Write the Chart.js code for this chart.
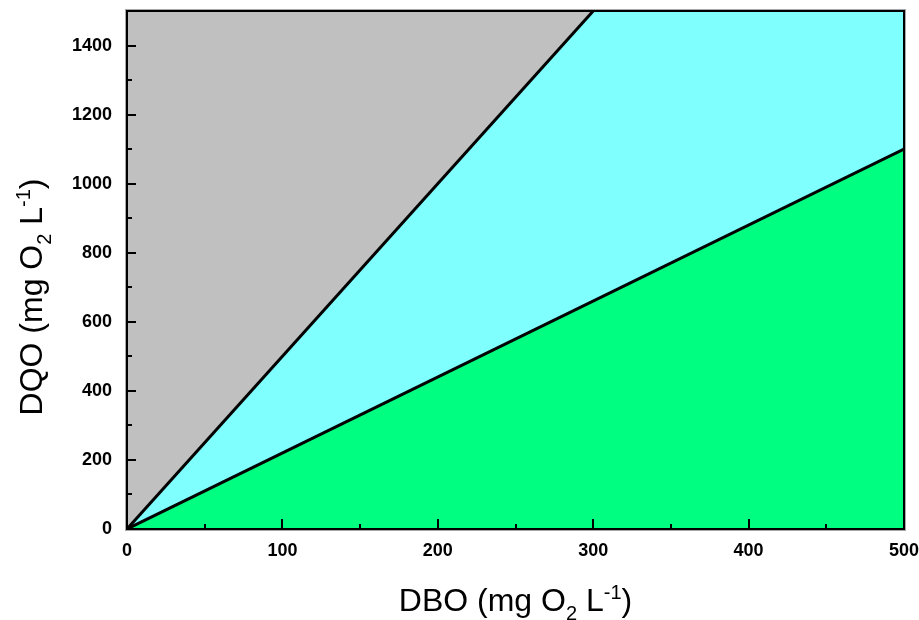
<!DOCTYPE html>
<html><head><meta charset="utf-8">
<script src="https://cdn.jsdelivr.net/npm/chart.js@4.4.1/dist/chart.umd.min.js"></script>
<style>html,body{margin:0;padding:0;background:#fff}#wrap{width:919px;height:620px}</style>
</head><body><div id="wrap"><canvas id="c" width="919" height="620"></canvas></div>
<script>
// ---- data ----
const xTicks = [0, 100, 200, 300, 400, 500];
const xMinor = [50, 150, 250, 350, 450];
const yTicks = [0, 200, 400, 600, 800, 1000, 1200, 1400];
const yMinor = [100, 300, 500, 700, 900, 1100, 1300];
const upperDBO = [0, 300];     // DQO/DBO = 5 boundary
const upperDQO = [0, 1500];
const lowerDBO = [0, 500];     // DQO/DBO = 2.2 boundary
const lowerDQO = [0, 1100];
const topDBO = [0, 500];
const topDQO = [1500, 1500];
const xTitleParts = ['DBO (mg O', '2', ' L', '-1', ')'];
const yTitleParts = ['DQO (mg O', '2', ' L', '-1', ')'];
const titleRoles = ['n', 'sub', 'n', 'sup', 'n'];

const zip = (xs, ys) => xs.map((v, i) => ({x: v, y: ys[i]}));
const FONT = '"Liberation Sans", Arial, sans-serif';

function drawRich(ctx, parts, cx, baseY, size) {
  const small = Math.round(size * 0.62);
  const fontOf = r => (r === 'n' ? size : small) + 'px ' + FONT;
  let total = 0;
  parts.forEach((p, i) => { ctx.font = fontOf(titleRoles[i]); total += ctx.measureText(p).width; });
  let x = cx - total / 2;
  ctx.textBaseline = 'alphabetic';
  ctx.textAlign = 'left';
  parts.forEach((p, i) => {
    const r = titleRoles[i];
    ctx.font = fontOf(r);
    const dy = r === 'sub' ? size * 0.28 : (r === 'sup' ? -size * 0.36 : 0);
    ctx.fillText(p, x, baseY + dy);
    x += ctx.measureText(p).width;
  });
}

const decor = {
  id: 'decor',
  afterDatasetsDraw(chart) {
    const {ctx, chartArea: a, scales: {x, y}} = chart;
    ctx.save();
    ctx.strokeStyle = '#000';
    ctx.lineWidth = 2;
    ctx.beginPath();
    xTicks.forEach(v => { const px = Math.round(x.getPixelForValue(v)); ctx.moveTo(px, a.bottom); ctx.lineTo(px, a.bottom - 10); });
    xMinor.forEach(v => { const px = Math.round(x.getPixelForValue(v)); ctx.moveTo(px, a.bottom); ctx.lineTo(px, a.bottom - 5); });
    yTicks.forEach(v => { const py = Math.round(y.getPixelForValue(v)); ctx.moveTo(a.left, py); ctx.lineTo(a.left + 9, py); });
    yMinor.forEach(v => { const py = Math.round(y.getPixelForValue(v)); ctx.moveTo(a.left, py); ctx.lineTo(a.left + 5, py); });
    ctx.stroke();
    ctx.strokeStyle = '#a8a8a8';
    ctx.lineWidth = 1;
    ctx.strokeRect(a.left - 1.5, a.top - 1.5, a.width + 3, a.height + 3);
    ctx.strokeStyle = '#000';
    ctx.lineWidth = 2;
    ctx.strokeRect(a.left, a.top, a.width, a.height);
    ctx.restore();
  },
  afterDraw(chart) {
    const {ctx, chartArea: a} = chart;
    ctx.save();
    ctx.fillStyle = '#000';
    drawRich(ctx, xTitleParts, (a.left + a.right) / 2, 611, 32);
    ctx.translate(42, 297);
    ctx.rotate(-Math.PI / 2);
    drawRich(ctx, yTitleParts, 0, 0, 32);
    ctx.restore();
  }
};

const tickFont = {family: FONT, size: 18, weight: 'bold'};

new Chart(document.getElementById('c'), {
  type: 'scatter',
  data: {
    datasets: [
      {label: 'upper', data: zip(upperDBO, upperDQO), showLine: true, borderColor: '#000', borderWidth: 3,
       pointRadius: 0, fill: 'end', backgroundColor: '#c0c0c0'},
      {label: 'lower', data: zip(lowerDBO, lowerDQO), showLine: true, borderColor: '#000', borderWidth: 3,
       pointRadius: 0, fill: 'origin', backgroundColor: '#00ff80'},
      {label: 'top', data: zip(topDBO, topDQO), showLine: true, borderWidth: 0, borderColor: 'rgba(0,0,0,0)',
       pointRadius: 0, fill: 'origin', backgroundColor: '#80ffff'}
    ]
  },
  options: {
    responsive: false,
    animation: false,
    devicePixelRatio: 1,
    layout: {padding: {top: 11, right: 15, left: 0, bottom: 0}},
    plugins: {legend: {display: false}, tooltip: {enabled: false}},
    scales: {
      x: {
        type: 'linear', min: 0, max: 500, position: 'bottom',
        afterBuildTicks: s => { s.ticks = xTicks.map(v => ({value: v})); },
        afterFit: s => { s.height = 91; s.paddingLeft = 0; s.paddingRight = 0; },
        ticks: {font: tickFont, color: '#000', padding: 3, maxRotation: 0, callback: v => String(v)},
        grid: {display: false}, border: {display: false}
      },
      y: {
        type: 'linear', min: 0, max: 1500, position: 'left',
        afterBuildTicks: s => { s.ticks = yTicks.map(v => ({value: v})); },
        afterFit: s => { s.width = 127; s.paddingTop = 0; s.paddingBottom = 0; },
        ticks: {font: tickFont, color: '#000', padding: 7, callback: v => String(v)},
        grid: {display: false}, border: {display: false}
      }
    }
  },
  plugins: [decor]
});
</script>
</body></html>
